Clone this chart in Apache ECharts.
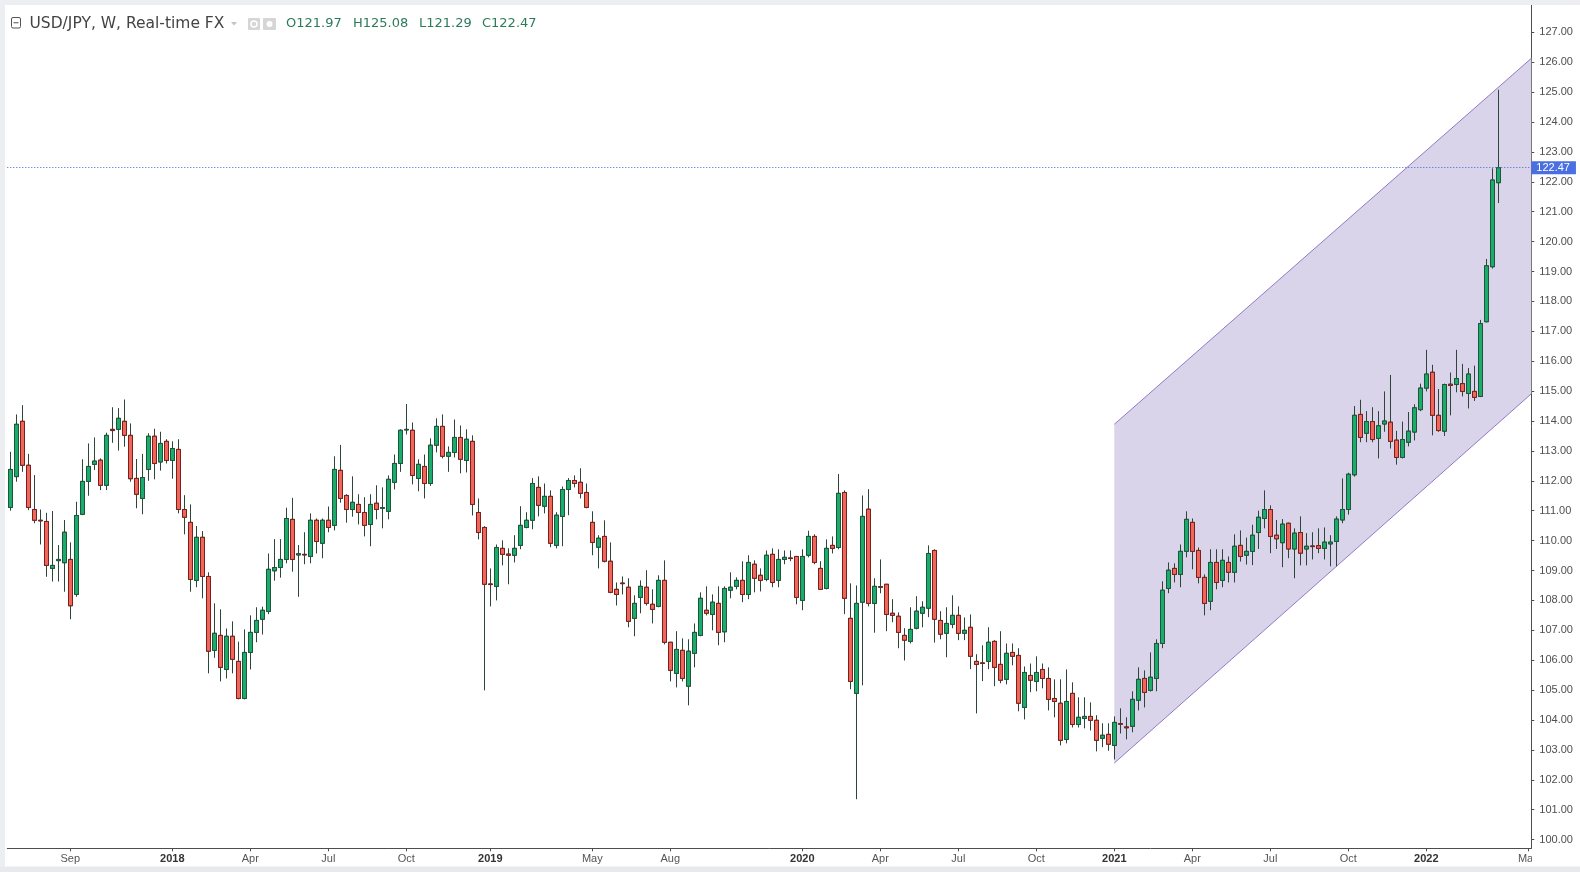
<!DOCTYPE html>
<html><head><meta charset="utf-8">
<script src="https://cdn.jsdelivr.net/npm/echarts@6/dist/echarts.min.js"></script>
<style>html,body{margin:0;padding:0;background:#fff}#c{width:1580px;height:872px}</style>
</head><body><div id="c"></div>
<script>
// ---- data ----
const startWeekUTC = Date.UTC(2017, 5, 26);   // first weekly bar: 2017-06-26
const weekCount = 254;                        // categories incl. empty future weeks

const opens = [
111.11,112.14,113.99,112.52,111.04,110.68,110.64,109.07,109.33,109.26,
109.37,108.20,110.88,111.98,112.55,112.69,111.85,113.72,113.72,113.99,
113.52,112.08,111.41,112.38,113.49,112.63,113.32,112.68,113.05,111.04,
110.61,108.67,110.11,108.80,106.33,106.83,105.69,106.80,105.96,104.72,
106.26,106.93,107.37,107.63,108.99,109.10,109.37,110.71,109.52,109.54,
109.47,110.68,109.91,110.68,110.51,112.35,111.51,111.04,111.21,110.94,
110.54,111.25,111.08,110.98,111.95,112.58,113.70,113.69,112.08,112.48,
111.91,113.19,113.82,112.82,112.95,113.45,112.68,113.32,110.94,110.44,
108.55,108.47,109.74,109.55,109.51,109.84,110.44,110.68,111.78,111.15,
111.48,109.84,110.81,111.71,112.01,111.95,111.61,110.61,109.78,110.14,
109.31,108.37,108.58,108.44,107.40,108.10,108.44,107.87,107.80,108.67,
106.60,105.56,106.33,105.13,106.23,106.83,107.67,107.53,107.90,106.95,
108.34,108.47,108.67,108.20,109.21,108.84,108.70,109.54,108.67,109.37,
109.42,109.47,108.00,109.51,110.14,109.07,108.40,109.84,109.77,111.61,
107.40,104.89,107.94,111.05,107.90,108.46,108.54,107.57,107.47,106.83,
106.63,107.07,107.57,107.74,109.67,107.33,106.90,107.20,107.50,106.90,
107.10,105.96,105.91,105.96,106.63,105.86,105.36,106.26,106.16,104.42,
105.49,105.29,105.69,105.39,104.72,104.56,103.35,104.89,103.85,104.05,
104.12,103.99,103.39,103.52,103.15,103.88,103.77,103.79,104.66,105.39,
104.99,105.39,106.56,108.40,109.07,108.87,109.64,110.61,109.67,108.77,
107.97,109.27,108.67,109.27,108.94,109.84,109.51,109.64,110.27,110.74,
111.04,110.18,109.93,110.58,109.72,110.27,109.72,109.82,109.83,109.74,
109.89,109.97,110.69,111.04,112.20,114.22,113.59,113.98,113.42,113.90,
113.96,113.36,112.78,113.29,113.63,114.38,115.10,115.63,114.19,113.66,
115.23,115.22,115.25,114.92,114.99,114.82,117.32,119.16,121.97];

const highs = [
112.97,114.22,114.53,112.90,112.19,111.04,110.93,110.99,109.85,110.69,
109.94,111.30,112.72,113.25,113.45,112.75,113.61,114.46,114.43,114.72,
113.92,112.73,112.90,113.59,113.74,113.64,113.39,113.32,113.39,111.52,
111.21,110.49,110.32,108.94,107.90,107.70,107.06,107.30,106.62,107.03,
107.50,107.77,107.79,109.57,110.05,110.05,111.10,111.43,109.85,110.28,
110.91,110.74,110.74,111.14,112.82,113.20,111.55,112.15,111.55,111.45,
111.55,111.85,111.78,112.18,112.88,113.72,114.57,113.95,112.72,112.88,
113.42,114.09,114.22,113.15,114.05,113.85,113.72,113.52,111.41,110.48,
109.07,109.87,110.01,109.74,110.18,111.15,110.95,112.09,112.15,111.91,
111.68,110.95,111.81,112.09,112.18,112.42,111.91,110.98,110.18,110.68,
109.94,108.60,108.80,108.74,108.17,108.67,109.01,108.37,108.84,109.34,
106.60,106.97,106.73,106.70,107.23,108.27,108.47,108.20,108.47,108.47,
108.94,108.77,109.31,109.51,109.34,109.07,109.67,109.74,109.71,109.67,
109.67,109.47,109.71,110.33,110.21,109.31,110.04,110.14,112.23,111.68,
108.57,108.50,111.51,111.72,108.74,109.37,108.54,108.04,107.60,107.07,
107.77,108.14,107.97,109.84,109.71,107.64,107.77,108.17,107.80,107.43,
107.53,106.20,106.50,107.10,106.67,106.97,106.56,106.56,106.40,105.79,
105.89,106.13,105.89,105.76,105.36,105.36,105.69,105.26,104.76,104.76,
104.59,104.16,103.89,103.89,104.12,104.39,104.09,104.96,105.76,105.66,
106.26,106.70,108.64,109.27,109.24,109.87,110.98,110.74,109.77,108.87,
109.71,109.71,109.71,109.47,110.21,110.34,110.10,110.53,111.00,111.68,
111.18,110.69,110.72,110.60,110.41,110.81,110.25,110.28,110.41,110.44,
110.18,110.81,112.08,112.27,114.50,114.71,114.33,114.46,114.33,114.99,
115.54,113.67,113.98,114.30,114.56,115.25,116.38,115.88,115.07,115.25,
115.62,116.38,115.91,115.77,115.85,117.38,119.42,122.45,125.08];

const lows = [
111.00,111.97,112.30,111.02,110.58,109.87,108.79,108.63,108.63,108.29,
107.37,108.12,110.85,111.50,112.36,111.69,111.69,113.27,113.01,113.14,
111.97,111.08,110.88,112.00,112.05,112.34,112.58,112.07,110.91,110.21,
108.29,108.44,108.07,105.56,106.08,105.29,105.39,105.56,104.69,104.69,
105.69,106.60,106.86,107.54,108.66,108.76,109.24,108.96,108.12,109.21,
109.24,109.57,109.41,110.28,110.34,111.27,110.60,110.80,110.54,110.14,
109.81,110.71,110.41,110.71,111.71,112.30,113.55,111.88,111.65,111.41,
111.83,112.95,112.75,112.30,112.78,112.25,112.28,110.84,110.04,104.99,
107.80,108.00,109.17,108.54,109.27,109.71,110.41,110.38,110.81,110.91,
109.78,109.74,109.81,110.85,111.78,111.41,111.08,109.51,109.07,109.27,
108.24,107.83,108.20,107.10,106.80,107.57,107.83,107.23,107.77,106.53,
105.29,105.09,105.29,104.49,105.76,106.80,107.50,107.00,106.50,106.60,
108.07,108.37,107.94,108.04,108.27,108.30,108.64,108.44,108.44,109.21,
109.31,107.87,107.67,109.44,109.21,108.37,108.37,109.57,109.71,107.54,
105.03,101.35,105.16,107.80,106.92,108.24,106.97,107.27,106.40,105.99,
106.56,107.03,107.10,107.44,106.59,106.70,106.10,107.07,106.67,106.67,
105.70,104.22,105.30,105.70,105.13,105.23,105.19,105.83,104.29,104.02,
104.93,104.96,105.06,104.32,104.09,103.15,103.22,103.75,103.75,103.72,
103.65,102.95,103.09,102.97,102.68,103.55,103.35,103.59,104.32,104.42,
104.95,104.96,106.40,108.24,108.60,108.44,109.44,109.04,108.57,107.50,
107.67,108.37,108.44,108.60,108.60,109.30,109.20,109.18,109.72,110.41,
109.58,109.72,109.11,109.41,108.74,109.17,109.17,109.37,109.58,109.37,
109.14,109.14,110.58,110.87,112.14,113.29,113.29,113.29,112.75,113.64,
113.08,112.54,112.75,113.15,113.35,114.33,114.99,113.52,113.64,113.50,
114.19,114.96,114.82,114.42,114.67,114.80,117.30,119.10,121.29];

const closes = [
112.38,113.89,112.52,111.11,110.68,110.66,109.17,109.17,109.37,110.28,
107.82,110.84,111.98,112.48,112.66,111.85,113.52,113.68,114.09,113.52,
112.07,111.55,112.11,113.49,112.58,113.25,112.68,113.08,111.04,110.78,
108.70,110.11,108.80,106.30,106.90,105.76,106.80,106.03,104.72,106.26,
106.93,107.33,107.67,109.04,109.10,109.37,110.74,109.37,109.56,109.52,
110.68,109.97,110.68,110.44,112.38,111.41,111.04,111.28,110.94,110.51,
111.21,111.04,111.10,112.05,112.58,113.69,113.72,112.18,112.55,111.91,
113.19,113.82,112.82,112.95,113.45,112.72,113.39,111.21,110.27,108.54,
108.53,109.77,109.54,109.51,109.74,110.51,110.68,111.91,111.18,111.48,
109.91,110.85,111.71,112.01,111.91,111.58,111.11,109.94,110.08,109.31,
108.27,108.20,108.56,107.30,107.90,108.47,107.90,107.70,108.67,106.60,
105.66,106.36,105.39,106.30,106.93,108.07,107.57,107.94,106.93,108.40,
108.44,108.67,108.20,109.27,108.74,108.67,109.51,108.60,109.37,109.44,
109.40,108.10,109.47,110.14,109.27,108.37,109.74,109.74,111.58,108.07,
105.29,107.90,110.81,107.90,108.47,108.44,107.53,107.50,106.93,106.67,
107.03,107.64,107.77,109.57,107.37,106.87,107.23,107.50,106.90,107.00,
106.13,105.86,105.89,106.60,105.76,105.33,106.23,106.13,104.56,105.59,
105.33,105.59,105.39,104.69,104.62,103.32,104.62,103.85,104.09,104.12,
103.99,103.32,103.49,103.19,103.92,103.86,103.74,104.69,105.36,104.92,
105.43,106.56,108.34,109.01,108.87,109.64,110.71,109.64,108.77,107.90,
109.27,108.60,109.34,108.94,109.81,109.47,109.64,110.18,110.78,111.04,
110.14,110.06,110.55,109.72,110.25,109.58,109.81,109.80,109.74,109.95,
109.95,110.72,111.04,112.22,114.19,113.45,113.98,113.38,113.84,114.00,
113.32,112.78,113.38,113.66,114.44,115.10,115.57,114.19,113.68,115.22,
115.19,115.42,114.99,115.57,114.79,117.26,119.19,122.06,122.47];

const tickDates = ['2017-09-04','2018-01-01','2018-04-02','2018-07-02','2018-10-01',
  '2019-01-07','2019-05-06','2019-08-05','2020-01-06','2020-04-06','2020-07-06',
  '2020-10-05','2021-01-04','2021-04-05','2021-07-05','2021-10-04','2022-01-03','2022-05-02'];
const monthNames = ['Jan','Feb','Mar','Apr','May','Jun','Jul','Aug','Sep','Oct','Nov','Dec'];
const yTicks = [100,101,102,103,104,105,106,107,108,109,110,111,112,113,
  114,115,116,117,118,119,120,121,122,123,124,125,126,127];

// trend channel: [date, upper, lower]
const channelStart = ['2021-01-04', 113.89, 102.56];
const channelEnd   = ['2022-05-02', 126.04, 114.82];

const titleText = 'USD/JPY, W, Real-time FX';

// ---- build ----
const weeks = [];
for (let k = 0; k < weekCount; k++) {
  weeks.push(new Date(startWeekUTC + k * 7 * 86400000).toISOString().slice(0, 10));
}
const tickSet = new Set(tickDates);
const candleData = opens.map((o, i) => [o, closes[i], lows[i], highs[i]]);
const bodyData = opens.map((o, i) => [o, closes[i], Math.min(o, closes[i]), Math.max(o, closes[i])]);
const last = opens.length - 1;
const lastClose = closes[last];

const chart = echarts.init(document.getElementById('c'), null, {renderer: 'canvas'});
const FONT = '"Liberation Sans", Arial, sans-serif';
const HFONT = '"DejaVu Sans", Verdana, sans-serif';
const WICK = '#2e4639';

const ohlcItems = [
  ['O', opens[last], 286], ['H', highs[last], 353], ['L', lows[last], 419], ['C', closes[last], 482]
];

const option = {
  animation: false,
  backgroundColor: '#ffffff',
  textStyle: {fontFamily: FONT},
  grid: {left: 7.3, right: 48.7, top: 5, bottom: 23.7, containLabel: false},
  xAxis: {
    type: 'category', data: weeks, boundaryGap: true,
    axisLine: {show: true, lineStyle: {color: '#4d4d4d', width: 1}},
    axisTick: {show: true, length: 3, alignWithLabel: true,
      interval: (i, v) => tickSet.has(v), lineStyle: {color: '#4d4d4d'}},
    axisLabel: {
      interval: (i, v) => tickSet.has(v), margin: 5, color: '#555', fontSize: 11, fontFamily: FONT,
      formatter: v => {
        const d = new Date(v + 'T00:00:00Z');
        const m = d.getUTCMonth();
        return m === 0 ? '{y|' + d.getUTCFullYear() + '}' : monthNames[m];
      },
      rich: {y: {fontWeight: 'bold', color: '#333', fontSize: 11, fontFamily: FONT}}
    },
    splitLine: {show: false}
  },
  yAxis: {
    type: 'value', position: 'right', min: 99.709, max: 127.913,
    axisLine: {show: true, lineStyle: {color: '#4d4d4d', width: 1}},
    axisTick: {show: true, length: 3, customValues: yTicks, lineStyle: {color: '#4d4d4d'}},
    axisLabel: {customValues: yTicks, formatter: v => v.toFixed(2), color: '#4f4f4f',
      fontSize: 11, margin: 8, fontFamily: FONT},
    splitLine: {show: false}
  },
  series: [
    {
      type: 'custom', z: 1, silent: true, clip: true,
      data: [[weeks.indexOf(channelStart[0]), channelStart[1], channelStart[2],
              weeks.indexOf(channelEnd[0]), channelEnd[1], channelEnd[2]]],
      encode: {x: [0, 3], y: [1, 2, 4, 5]},
      renderItem: (params, api) => {
        const a = api.coord([api.value(0), api.value(1)]);
        const b = api.coord([api.value(0), api.value(2)]);
        const c = api.coord([api.value(3), api.value(4)]);
        const d = api.coord([api.value(3), api.value(5)]);
        const cs = params.coordSys;
        const xr = cs.x + cs.width;
        const ext = (p, q) => [xr, p[1] + (q[1] - p[1]) * (xr - p[0]) / (q[0] - p[0])];
        const ue = ext(a, c), le = ext(b, d);
        return {type: 'group', children: [
          {type: 'polygon', shape: {points: [a, ue, le, b]}, style: {fill: '#d9d4ea', stroke: null}},
          {type: 'polyline', shape: {points: [a, ue]}, style: {stroke: '#9478c8', lineWidth: 1, fill: null}},
          {type: 'polyline', shape: {points: [b, le]}, style: {stroke: '#9478c8', lineWidth: 1, fill: null}}
        ]};
      }
    },
    {
      // wicks (full high-low range), dark
      type: 'candlestick', z: 3, data: candleData, barWidth: 4, silent: true,
      itemStyle: {color: WICK, color0: WICK, borderColor: WICK, borderColor0: WICK, borderWidth: 1},
      markLine: {
        symbol: ['none', 'none'], silent: true, animation: false,
        data: [{yAxis: lastClose}],
        lineStyle: {color: '#3f5fd9', type: [1, 2], width: 1},
        label: {show: true, position: 'end', distance: 0, formatter: p => Number(p.value).toFixed(2),
          backgroundColor: '#4a6fe0', color: '#fff', padding: [1, 6, 1, 5], fontSize: 11,
          lineHeight: 11, fontFamily: FONT}
      }
    },
    {
      // bodies (open-close range) on top
      type: 'candlestick', z: 4, data: bodyData, barWidth: 4,
      itemStyle: {color: '#19ac6b', color0: '#f0665a', borderColor: '#1f553b',
        borderColor0: '#7a1f19', borderWidth: 1}
    }
  ],
  graphic: [
    {type: 'rect', z: 100, silent: true, shape: {x: 1532, y: 849, width: 48, height: 17}, style: {fill: '#ffffff'}},
    {type: 'rect', z: 100, silent: true, shape: {x: 0, y: 0, width: 1580, height: 5}, style: {fill: '#eceef1'}},
    {type: 'rect', z: 100, silent: true, shape: {x: 0, y: 0, width: 5, height: 872}, style: {fill: '#eceef1'}},
    {type: 'rect', z: 100, silent: true, shape: {x: 0, y: 866.5, width: 1580, height: 6}, style: {fill: '#e8e9ec'}},
    {type: 'rect', z: 100, silent: true, shape: {x: 11.5, y: 17.5, width: 9, height: 10.5, r: 1.5},
      style: {fill: null, stroke: '#555', lineWidth: 1}},
    {type: 'line', z: 100, silent: true, shape: {x1: 13.5, y1: 22.75, x2: 18.5, y2: 22.75},
      style: {stroke: '#555', lineWidth: 1}},
    {type: 'text', z: 100, silent: true, x: 29.5, y: 23.5,
      style: {text: titleText, fill: '#444', font: '15.5px ' + HFONT, verticalAlign: 'middle'}},
    {type: 'polygon', z: 100, silent: true, shape: {points: [[231, 22], [237, 22], [234, 25.5]]},
      style: {fill: '#c4c4c4'}},
    {type: 'rect', z: 100, silent: true, shape: {x: 248, y: 18, width: 12, height: 12, r: 1}, style: {fill: '#d6d6d6'}},
    {type: 'circle', z: 101, silent: true, shape: {cx: 254, cy: 24, r: 3}, style: {fill: null, stroke: '#fff', lineWidth: 1.5}},
    {type: 'rect', z: 100, silent: true, shape: {x: 263, y: 18, width: 13, height: 12, r: 1}, style: {fill: '#d6d6d6'}},
    {type: 'circle', z: 101, silent: true, shape: {cx: 269.5, cy: 24, r: 3}, style: {fill: '#fff'}},
    ...ohlcItems.map(([k, v, x]) => ({type: 'text', z: 100, silent: true, x: x, y: 23.5,
      style: {text: k + v.toFixed(2), fill: '#2b7b5b', font: '13px ' + HFONT, verticalAlign: 'middle'}}))
  ]
};
chart.setOption(option);
</script>
</body></html>
